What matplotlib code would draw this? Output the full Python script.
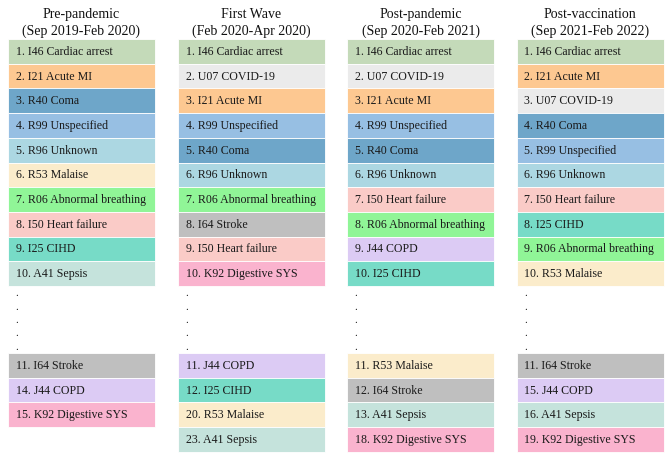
import matplotlib.pyplot as plt
from matplotlib.patches import Rectangle

plt.rcParams['font.family'] = ['Liberation Serif', 'DejaVu Serif']

# titulos de cada periodo
periods = ['Pre-pandemic\n(Sep 2019-Feb 2020)',
           'First Wave\n(Feb 2020-Apr 2020)',
           'Post-pandemic\n(Sep 2020-Feb 2021)',
           'Post-vaccination\n(Sep 2021-Feb 2022)']

# rangos y causas por periodo
ranks_pre = [1, 2, 3, 4, 5, 6, 7, 8, 9, 10, 11, 14, 15]
causes_pre = ['I46 Cardiac arrest', 'I21 Acute MI', 'R40 Coma', 'R99 Unspecified',
              'R96 Unknown', 'R53 Malaise', 'R06 Abnormal breathing', 'I50 Heart failure',
              'I25 CIHD', 'A41 Sepsis', 'I64 Stroke', 'J44 COPD', 'K92 Digestive SYS']

ranks_wave = [1, 2, 3, 4, 5, 6, 7, 8, 9, 10, 11, 12, 20, 23]
causes_wave = ['I46 Cardiac arrest', 'U07 COVID-19', 'I21 Acute MI', 'R99 Unspecified',
               'R40 Coma', 'R96 Unknown', 'R06 Abnormal breathing', 'I64 Stroke',
               'I50 Heart failure', 'K92 Digestive SYS', 'J44 COPD', 'I25 CIHD',
               'R53 Malaise', 'A41 Sepsis']

ranks_post = [1, 2, 3, 4, 5, 6, 7, 8, 9, 10, 11, 12, 13, 18]
causes_post = ['I46 Cardiac arrest', 'U07 COVID-19', 'I21 Acute MI', 'R99 Unspecified',
               'R40 Coma', 'R96 Unknown', 'I50 Heart failure', 'R06 Abnormal breathing',
               'J44 COPD', 'I25 CIHD', 'R53 Malaise', 'I64 Stroke', 'A41 Sepsis',
               'K92 Digestive SYS']

ranks_vacc = [1, 2, 3, 4, 5, 6, 7, 8, 9, 10, 11, 15, 16, 19]
causes_vacc = ['I46 Cardiac arrest', 'I21 Acute MI', 'U07 COVID-19', 'R40 Coma',
               'R99 Unspecified', 'R96 Unknown', 'I50 Heart failure', 'I25 CIHD',
               'R06 Abnormal breathing', 'R53 Malaise', 'I64 Stroke', 'J44 COPD',
               'A41 Sepsis', 'K92 Digestive SYS']

# color fijo por causa
cause_colors = {
    'I46 Cardiac arrest': '#c4dab9',
    'I21 Acute MI': '#fdc891',
    'R40 Coma': '#6ea6c9',
    'R99 Unspecified': '#97bfe3',
    'R96 Unknown': '#acd7e2',
    'R53 Malaise': '#fbeccb',
    'R06 Abnormal breathing': '#90f597',
    'I50 Heart failure': '#facbc7',
    'I25 CIHD': '#77dbc7',
    'A41 Sepsis': '#c5e3dc',
    'I64 Stroke': '#bfbfbf',
    'J44 COPD': '#dccbf4',
    'K92 Digestive SYS': '#fab3ce',
    'U07 COVID-19': '#ebebeb',
}

columns = [(ranks_pre, causes_pre), (ranks_wave, causes_wave),
           (ranks_post, causes_post), (ranks_vacc, causes_vacc)]

fig = plt.figure(figsize=(6.69, 4.58), dpi=100)
ax = fig.add_axes([0, 0, 1, 1])
ax.set_xlim(0, 669)
ax.set_ylim(458, 0)
ax.axis('off')

col_x = [8, 177.5, 347, 516.5]
col_w = 147
row_h = 24.7
top = 39
gap_top = top + 10 * row_h      # donde empiezan los puntos
low_top = 353                   # donde empiezan las filas inferiores

for (ranks, causes), x0, title in zip(columns, col_x, periods):
    ax.text(x0 + col_w / 2, top - 1, title, ha='center', va='bottom',
            fontsize=10, linespacing=1.35, color='#111111')
    for i, (r, c) in enumerate(zip(ranks, causes)):
        if i < 10:
            y0 = top + i * row_h
        else:
            y0 = low_top + (i - 10) * row_h
        ax.add_patch(Rectangle((x0, y0), col_w, row_h, facecolor=cause_colors[c],
                               edgecolor='white', linewidth=0.6))
        ax.text(x0 + 8, y0 + row_h / 2 + 0.5, f'{r}. {c}', ha='left', va='center',
                fontsize=8.6, color='#1a1a1a')
    # puntos suspensivos verticales
    for k in range(5):
        ax.text(x0 + 9, gap_top + 8 + k * 13.3, '.', ha='center', va='center',
                fontsize=8, color='#1a1a1a')

fig.savefig('out.png', dpi=100)
